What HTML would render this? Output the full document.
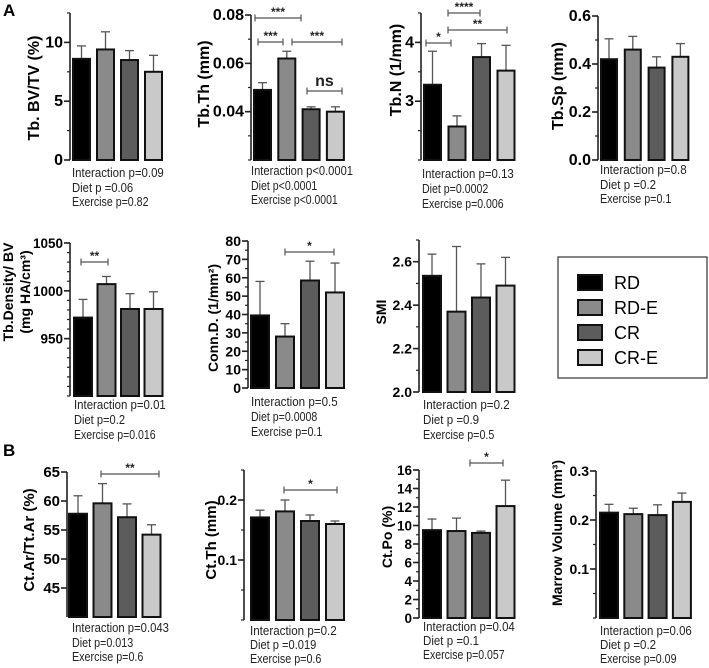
<!DOCTYPE html>
<html><head><meta charset="utf-8"><style>
html,body{margin:0;padding:0;background:#fff;}
svg{display:block;font-family:"Liberation Sans",Arial,sans-serif;}
</style></head><body>
<svg id="fig" width="709" height="668" viewBox="0 0 709 668" xmlns="http://www.w3.org/2000/svg">
<text x="3" y="16" font-size="17" font-weight="bold">A</text>
<text x="3" y="456" font-size="17" font-weight="bold">B</text>
<g>
<rect x="558" y="257" width="149" height="121" fill="#fff" stroke="#333" stroke-width="1.2"/>
<g><rect x="578" y="275" width="24" height="15" fill="#000" stroke="#111" stroke-width="2"/><text x="614" y="289" font-size="18">RD</text></g>
<g><rect x="578" y="300" width="24" height="15" fill="#8a8a8a" stroke="#111" stroke-width="2"/><text x="614" y="314" font-size="18">RD-E</text></g>
<g><rect x="578" y="325" width="24" height="15" fill="#5c5c5c" stroke="#111" stroke-width="2"/><text x="614" y="339" font-size="18">CR</text></g>
<g><rect x="578" y="350" width="24" height="15" fill="#c9c9c9" stroke="#111" stroke-width="2"/><text x="614" y="364" font-size="18">CR-E</text></g>
</g>
</svg>
<script>
// ---- data ----
const groups = ["RD","RD-E","CR","CR-E"];
const bvtvMeans = [8.6, 9.4, 8.5, 7.5];
const bvtvErr = [9.7, 10.9, 9.3, 8.9];
const tbthMeans = [0.049, 0.062, 0.041, 0.040];
const tbthErr = [0.052, 0.065, 0.042, 0.042];
const tbnMeans = [3.28, 2.57, 3.75, 3.52];
const tbnErr = [3.85, 2.75, 3.98, 3.95];
const tbspMeans = [0.42, 0.46, 0.385, 0.43];
const tbspErr = [0.505, 0.515, 0.43, 0.485];
const densMeans = [972, 1007, 981, 981];
const densErr = [991, 1015, 997, 999];
const connMeans = [39.5, 28, 58.5, 52];
const connErr = [58, 35, 69, 68];
const smiMeans = [2.535, 2.37, 2.435, 2.49];
const smiErr = [2.635, 2.67, 2.59, 2.62];
const ctarMeans = [57.8, 59.6, 57.2, 54.2];
const ctarErr = [60.9, 63.0, 59.5, 55.9];
const ctthMeans = [0.171, 0.181, 0.165, 0.160];
const ctthErr = [0.183, 0.200, 0.175, 0.165];
const ctpoMeans = [9.5, 9.4, 9.2, 12.1];
const ctpoErr = [10.7, 10.8, 9.4, 14.9];
const marrowMeans = [0.215, 0.212, 0.210, 0.237];
const marrowErr = [0.232, 0.224, 0.231, 0.255];
const bvtvTicks = [0, 5, 10];
const tbthTicks = [0.04, 0.06, 0.08];
const tbnTicks = [3, 4];
const tbspTicks = [0, 0.2, 0.4, 0.6];
const densTicks = [950, 1000, 1050];
const connTicks = [0,10,20,30,40,50,60,70,80];
const smiTicks = [2.0, 2.2, 2.4, 2.6];
const ctarTicks = [45, 50, 55, 60, 65];
const ctthTicks = [0.1, 0.2];
const ctpoTicks = [0,2,4,6,8,10,12,14,16];
const marrowTicks = [0.1, 0.2, 0.3];
const colors = ["#000000","#8a8a8a","#5c5c5c","#c9c9c9"];

const NS = "http://www.w3.org/2000/svg";
const svg = document.getElementById("fig");
function mk(tag, attrs, parent){
  const e = document.createElementNS(NS, tag);
  for (const k in attrs) e.setAttribute(k, attrs[k]);
  (parent||svg).appendChild(e);
  return e;
}

const panels = [
 {id:"bvtv", means:bvtvMeans, err:bvtvErr, ticks:bvtvTicks, dec:0, min:0, max:12.5, minor:2.5, ax:70, yb:160, yt:13, bx:73, step:24, bw:17, fs:16,
  title:["Tb. BV/TV (%)"], tx:[34], ty:88, tfs:16,
  stats:["Interaction p=0.09","Diet p =0.06","Exercise p=0.82"], sx:72, sy:[177,192,206], br:[]},
 {id:"tbth", means:tbthMeans, err:tbthErr, ticks:tbthTicks, dec:2, min:0.02, max:0.08, minor:0.01, ax:251, yb:160, yt:15, bx:254, step:24.3, bw:17, fs:16,
  title:["Tb.Th (mm)"], tx:[204], ty:84, tfs:16,
  stats:["Interaction p<0.0001","Diet p<0.0001","Exercise p<0.0001"], sx:251, sy:[175,190,204],
  br:[[255,301,18,"***"],[258,283,42,"***"],[292,342,42,"***"],[307,342,91,"ns"]]},
 {id:"tbn", means:tbnMeans, err:tbnErr, ticks:tbnTicks, dec:0, min:2, max:4.5, minor:0.5, ax:421, yb:160, yt:13, bx:424, step:24.5, bw:17, fs:16,
  title:["Tb.N (1/mm)"], tx:[396], ty:70, tfs:16,
  stats:["Interaction p=0.13","Diet p=0.0002","Exercise p=0.006"], sx:422, sy:[178,193,208],
  br:[[448,480,13,"****"],[448,507,30,"**"],[426,451,43,"*"]]},
 {id:"tbsp", means:tbspMeans, err:tbspErr, ticks:tbspTicks, dec:1, min:0, max:0.6, minor:0.1, ax:598, yb:160, yt:16, bx:601, step:23.8, bw:16, fs:16,
  title:["Tb.Sp  (mm)"], tx:[558], ty:86, tfs:16,
  stats:["Interaction p=0.8","Diet p =0.2","Exercise p=0.1"], sx:600, sy:[174,189,203], br:[]},
 {id:"dens", means:densMeans, err:densErr, ticks:densTicks, dec:0, min:890, max:1050, minor:10, ax:70, yb:396, yt:243, bx:74, step:23.5, bw:18, fs:13.5,
  title:["Tb.Density/ BV","(mg HA/cm³)"], tx:[8,25], ty:292, tfs:14,
  stats:["Interaction p=0.01","Diet p=0.2","Exercise p=0.016"], sx:74, sy:[409,424,439], br:[[81,108,262,"**"]]},
 {id:"conn", means:connMeans, err:connErr, ticks:connTicks, dec:0, min:0, max:80, minor:5, ax:248, yb:388, yt:241, bx:251, step:25, bw:18, fs:14,
  title:["Conn.D. (1/mm²)"], tx:[213], ty:318, tfs:14,
  stats:["Interaction p=0.5","Diet p=0.0008","Exercise p=0.1"], sx:251, sy:[406,421,436], br:[[285,334,252,"*"]]},
 {id:"smi", means:smiMeans, err:smiErr, ticks:smiTicks, dec:1, min:2.0, max:2.7, minor:0.1, ax:419, yb:392, yt:240, bx:423, step:24.5, bw:18, fs:14,
  title:["SMI"], tx:[381], ty:312, tfs:14,
  stats:["Interaction p=0.2","Diet p =0.9","Exercise p=0.5"], sx:423, sy:[409,424,439], br:[]},
 {id:"ctar", means:ctarMeans, err:ctarErr, ticks:ctarTicks, dec:0, min:40, max:65, minor:0, ax:67, yb:617, yt:472, bx:69, step:24.5, bw:18, fs:15,
  title:["Ct.Ar/Tt.Ar (%)"], tx:[29], ty:540, tfs:15,
  stats:["Interaction p=0.043","Diet p=0.013","Exercise p=0.6"], sx:72, sy:[632,647,661], br:[[101,159,474,"**"]]},
 {id:"ctth", means:ctthMeans, err:ctthErr, ticks:ctthTicks, dec:1, min:0, max:0.25, minor:0.05, ax:244, yb:620, yt:470, bx:251, step:25, bw:18, fs:14,
  title:["Ct.Th (mm)"], tx:[211], ty:540, tfs:15,
  stats:["Interaction p=0.2","Diet p =0.019","Exercise p=0.6"], sx:250, sy:[635,649,663], br:[[284,337,490,"*"]]},
 {id:"ctpo", means:ctpoMeans, err:ctpoErr, ticks:ctpoTicks, dec:0, min:0, max:16, minor:1, ax:419, yb:618, yt:470, bx:423, step:24.5, bw:18, fs:13.5,
  title:["Ct.Po (%)"], tx:[387], ty:537, tfs:14,
  stats:["Interaction p=0.04","Diet p =0.1","Exercise p=0.057"], sx:423, sy:[631,645,659], br:[[470,503,463,"*"]]},
 {id:"marrow", means:marrowMeans, err:marrowErr, ticks:marrowTicks, dec:1, min:0, max:0.3, minor:0.05, ax:596, yb:618, yt:471, bx:600, step:24.3, bw:18, fs:14,
  title:["Marrow Volume (mm³)"], tx:[557], ty:533, tfs:14,
  stats:["Interaction p=0.06","Diet p =0.2","Exercise p=0.09"], sx:600, sy:[635,649,663], br:[]}
];

panels.forEach(p => {
  const g = mk("g", {});
  
  
  const y = v => p.yb - (v - p.min) / (p.max - p.min) * (p.yb - p.yt);
  const axis = mk("line", {x1:p.ax, y1:p.yt, x2:p.ax, y2:p.yb, stroke:"#222", "stroke-width":1.6}, g);
  
  
  if (p.minor > 0) {
    for (let v = p.min; v <= p.max + 1e-9; v += p.minor) {
      const yy = y(v);
      if (yy < p.yt - 1 || yy > p.yb + 1) continue;
      mk("line", {x1:p.ax-3, y1:yy, x2:p.ax, y2:yy, stroke:"#222", "stroke-width":1.2}, g);
    }
  }
  p.ticks.forEach(t => {
    const yy = y(t);
    mk("line", {x1:p.ax-6, y1:yy, x2:p.ax, y2:yy, stroke:"#222", "stroke-width":1.6}, g);
    const tl = mk("text", {x:p.ax-7, y:yy+5, "font-size":p.fs, "font-weight":"bold", "text-anchor":"end"}, g);
    
    
    tl.textContent = t.toFixed(p.dec);
  });
  p.means.forEach((m, i) => {
    const x = p.bx + i * p.step;
    const cx = x + p.bw / 2;
    const eb = mk("g", {}, g);
    
    
    mk("line", {x1:cx, y1:y(m), x2:cx, y2:y(p.err[i]), stroke:"#555", "stroke-width":1.3}, eb);
    mk("line", {x1:cx-4.5, y1:y(p.err[i]), x2:cx+4.5, y2:y(p.err[i]), stroke:"#555", "stroke-width":1.3}, eb);
    const r = mk("rect", {x:x, y:y(m), width:p.bw, height:p.yb - y(m), fill:colors[i], stroke:"#111", "stroke-width":2}, g);
    
    
  });
  p.br.forEach(b => {
    const bg = mk("g", {}, g);
    
    
    mk("line", {x1:b[0], y1:b[2], x2:b[1], y2:b[2], stroke:"#555", "stroke-width":1.2}, bg);
    mk("line", {x1:b[0], y1:b[2]-3.5, x2:b[0], y2:b[2]+3.5, stroke:"#555", "stroke-width":1.2}, bg);
    mk("line", {x1:b[1], y1:b[2]-3.5, x2:b[1], y2:b[2]+3.5, stroke:"#555", "stroke-width":1.2}, bg);
    const isNs = b[3] === "ns";
    const t = mk("text", {x:(b[0]+b[1])/2, y:isNs ? b[2]-5 : b[2]-2, "font-size":isNs ? 16 : 12, "font-weight":"bold", "text-anchor":"middle", fill:"#222"}, bg);
    t.textContent = b[3];
  });
  p.title.forEach((tt, k) => {
    const t = mk("text", {x:0, y:0, "font-size":p.tfs, "font-weight":"bold", "text-anchor":"middle",
      transform:`translate(${p.tx[k]+5},${p.ty}) rotate(-90)`}, g);
    
    
    t.textContent = tt;
  });
  p.stats.forEach((s, k) => {
    const t = mk("text", {x:p.sx, y:p.sy[k], "font-size":13, fill:"#222", textLength:(s.length*5.1).toFixed(1), lengthAdjust:"spacingAndGlyphs"}, g);
    
    
    t.textContent = s;
  });
});
</script>
</body></html>
